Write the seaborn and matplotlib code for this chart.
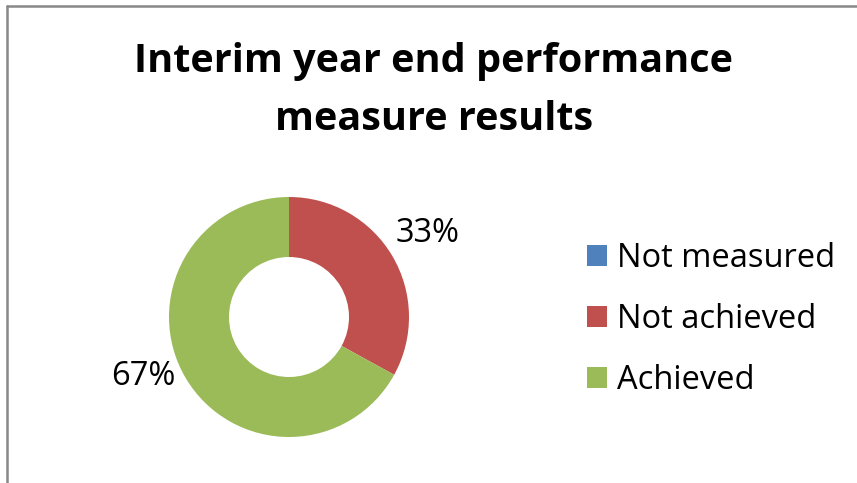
import matplotlib
matplotlib.use("Agg")
import matplotlib.pyplot as plt
import seaborn as sns

# Performance measure outcome shares (percent)
categories = ["Not measured", "Not achieved", "Achieved"]
values = [0, 33, 67]
colors = ["#4F81BD", "#C0504D", "#9BBB59"]
title_lines = ["Interim year end performance", "measure results"]

sns.set_theme(style="white")
plt.rcParams["font.family"] = ["Open Sans", "DejaVu Sans"]
plt.rcParams["text.color"] = "black"

W, H = 857, 483
fig = plt.figure(figsize=(W / 100, H / 100), dpi=100)
fig.patch.set_facecolor("white")


def fx(px):
    return px / W


def fy(py):
    return 1 - py / H


# Chart frame (top and left edges visible)
fig.add_artist(plt.Line2D([fx(7), fx(7)], [fy(6), 0], color="#888888", lw=1.8,
                          transform=fig.transFigure))
fig.add_artist(plt.Line2D([fx(7), 1], [fy(6), fy(6)], color="#888888", lw=1.8,
                          transform=fig.transFigure))

# Title
for line, base in zip(title_lines, [72, 130]):
    fig.text(fx(434), fy(base), line, ha="center", va="baseline",
             fontsize=28.5, fontweight="bold", color="black")

# Doughnut
cx, cy, r = 289, 317, 120
ax = fig.add_axes([fx(cx - r), 1 - (cy + r) / H, 2 * r / W, 2 * r / H])
wedges, _ = ax.pie(values, colors=colors, startangle=90, counterclock=False,
                   radius=1.0, wedgeprops=dict(width=0.5, edgecolor="none"))
ax.set_xlim(-1, 1)
ax.set_ylim(-1, 1)
ax.set_aspect("equal")
ax.axis("off")

# Data labels
label_pos = {1: (428, 242), 2: (143.5, 385)}
for i, (px, py) in label_pos.items():
    fig.text(fx(px), fy(py), f"{values[i]}%", ha="center", va="baseline",
             fontsize=23.5, color="black")

# Legend
leg = fig.legend(wedges, categories, loc="upper left",
                 bbox_to_anchor=(fx(574), fy(229)), frameon=False,
                 fontsize=23.5, handlelength=0.62, handleheight=0.62,
                 handletextpad=0.3, labelspacing=0.86, borderaxespad=0,
                 labelcolor="black")

fig.savefig("out.png", dpi=100, facecolor="white")
